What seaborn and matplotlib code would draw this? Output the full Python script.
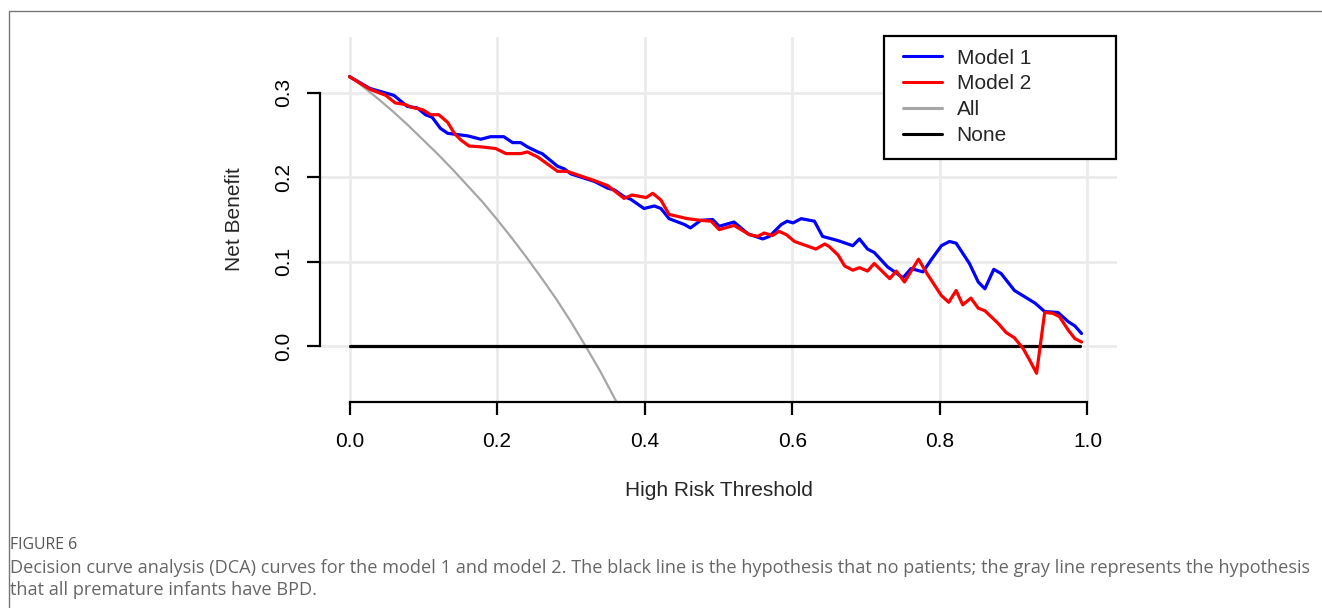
import matplotlib
matplotlib.use("Agg")
import matplotlib.pyplot as plt
import seaborn as sns
from matplotlib.lines import Line2D
from matplotlib.patches import Rectangle

# ---------------- data ----------------
m1_t = [0.000, 0.028, 0.056, 0.060, 0.078, 0.092, 0.103, 0.112, 0.123, 0.133,
        0.160, 0.178, 0.191, 0.209, 0.221, 0.232, 0.241, 0.255, 0.261, 0.282,
        0.291, 0.300, 0.332, 0.350, 0.359, 0.372, 0.381, 0.399, 0.413, 0.422,
        0.433, 0.454, 0.462, 0.476, 0.492, 0.501, 0.521, 0.540, 0.560, 0.569,
        0.585, 0.593, 0.601, 0.612, 0.630, 0.641, 0.662, 0.682, 0.691, 0.702,
        0.711, 0.729, 0.750, 0.761, 0.777, 0.788, 0.802, 0.813, 0.822, 0.840,
        0.852, 0.861, 0.873, 0.883, 0.901, 0.929, 0.942, 0.960, 0.974, 0.983,
        0.992]
m1_nb = [0.319, 0.305, 0.298, 0.297, 0.284, 0.282, 0.274, 0.271, 0.258, 0.252,
         0.249, 0.245, 0.248, 0.248, 0.241, 0.241, 0.236, 0.230, 0.228, 0.213,
         0.210, 0.204, 0.195, 0.187, 0.185, 0.177, 0.174, 0.163, 0.166, 0.163,
         0.151, 0.144, 0.140, 0.149, 0.150, 0.142, 0.147, 0.133, 0.127, 0.130,
         0.144, 0.148, 0.146, 0.151, 0.148, 0.130, 0.125, 0.119, 0.127, 0.115,
         0.111, 0.094, 0.081, 0.092, 0.088, 0.102, 0.119, 0.124, 0.122, 0.098,
         0.076, 0.068, 0.091, 0.086, 0.066, 0.051, 0.041, 0.040, 0.029, 0.024,
         0.015]

m2_t = [0.000, 0.028, 0.049, 0.062, 0.076, 0.083, 0.099, 0.110, 0.121, 0.133,
        0.142, 0.151, 0.162, 0.178, 0.198, 0.212, 0.232, 0.241, 0.255, 0.282,
        0.295, 0.332, 0.350, 0.372, 0.383, 0.402, 0.411, 0.422, 0.433, 0.458,
        0.476, 0.490, 0.501, 0.521, 0.542, 0.553, 0.562, 0.573, 0.582, 0.592,
        0.603, 0.632, 0.644, 0.650, 0.662, 0.671, 0.682, 0.691, 0.702, 0.711,
        0.732, 0.741, 0.752, 0.771, 0.784, 0.802, 0.812, 0.822, 0.831, 0.842,
        0.852, 0.861, 0.879, 0.890, 0.901, 0.913, 0.922, 0.931, 0.942, 0.953,
        0.962, 0.974, 0.983, 0.992]
m2_nb = [0.319, 0.304, 0.297, 0.288, 0.286, 0.283, 0.280, 0.274, 0.274, 0.265,
         0.252, 0.244, 0.237, 0.236, 0.234, 0.228, 0.228, 0.230, 0.224, 0.207,
         0.207, 0.196, 0.190, 0.175, 0.179, 0.176, 0.181, 0.173, 0.156, 0.151,
         0.149, 0.148, 0.138, 0.143, 0.132, 0.130, 0.134, 0.131, 0.136, 0.132,
         0.124, 0.115, 0.121, 0.118, 0.108, 0.095, 0.090, 0.093, 0.089, 0.098,
         0.080, 0.089, 0.076, 0.103, 0.084, 0.060, 0.052, 0.066, 0.049, 0.057,
         0.045, 0.042, 0.027, 0.016, 0.010, -0.003, -0.017, -0.032, 0.040, 0.039,
         0.035, 0.019, 0.009, 0.005]

all_t = [0.00, 0.02, 0.04, 0.06, 0.08, 0.10, 0.12, 0.14, 0.16, 0.18, 0.20,
         0.22, 0.24, 0.26, 0.28, 0.30, 0.32, 0.34, 0.36, 0.37]
all_nb = [0.320, 0.306, 0.292, 0.277, 0.261, 0.244, 0.227, 0.209, 0.190, 0.171,
          0.150, 0.128, 0.105, 0.081, 0.056, 0.029, 0.000, -0.030, -0.063, -0.079]

none_t = [0.00, 0.99]
none_nb = [0.0, 0.0]

x_ticks = [0.0, 0.2, 0.4, 0.6, 0.8, 1.0]
y_ticks = [0.0, 0.1, 0.2, 0.3]
x_ticklabels = ["0.0", "0.2", "0.4", "0.6", "0.8", "1.0"]
y_ticklabels = ["0.0", "0.1", "0.2", "0.3"]

legend_labels = ["Model 1", "Model 2", "All", "None"]
colors = {"Model 1": "#0000FF", "Model 2": "#FF0000", "All": "#A6A6A6", "None": "#000000"}

caption_head = "FIGURE 6"
caption_text = ("Decision curve analysis (DCA) curves for the model 1 and model 2. The black line is the "
                "hypothesis that no patients; the gray line represents the hypothesis\n"
                "that all premature infants have BPD.")

# ---------------- figure ----------------
sns.set_style("white")
plt.rcParams["font.family"] = ["Liberation Sans", "DejaVu Sans"]

W, H = 1322, 608
fig = plt.figure(figsize=(W / 100, H / 100), dpi=100)
L, R, T, B = 320, 1117, 37, 402
ax = fig.add_axes([L / W, 1 - B / H, (R - L) / W, (B - T) / H])

ax.set_xlim(-0.04, 1.04)
ax.set_ylim(-0.066, 0.366)

sns.lineplot(x=all_t, y=all_nb, color=colors["All"], linewidth=1.6, ax=ax, sort=False)
sns.lineplot(x=none_t, y=none_nb, color=colors["None"], linewidth=2.3, ax=ax, sort=False)
sns.lineplot(x=m1_t, y=m1_nb, color=colors["Model 1"], linewidth=2.3, ax=ax, sort=False)
sns.lineplot(x=m2_t, y=m2_nb, color=colors["Model 2"], linewidth=2.3, ax=ax, sort=False)

FS = 15
ax.set_xticks(x_ticks)
ax.set_xticklabels(x_ticklabels)
ax.set_yticks(y_ticks)
ax.set_yticklabels(y_ticklabels, rotation=90, va="center")

ax.grid(True, color="#EBEBEB", linewidth=2.0)
ax.set_axisbelow(True)

for s in ["top", "right"]:
    ax.spines[s].set_visible(False)
ax.spines["left"].set_bounds(0.0, 0.3)
ax.spines["bottom"].set_bounds(0.0, 1.0)
for s in ["left", "bottom"]:
    ax.spines[s].set_linewidth(1.6)
    ax.spines[s].set_color("black")

ax.tick_params(axis="x", bottom=True, direction="out", length=9.5, width=1.6, pad=12,
               labelsize=FS, colors="black")
ax.tick_params(axis="y", left=True, direction="out", length=9.5, width=1.6, pad=10,
               labelsize=FS, colors="black")

ax.set_xlabel("High Risk Threshold", fontsize=FS, va="center")
ax.xaxis.set_label_coords(0.5, (B - 490) / (B - T))
ax.set_ylabel("Net Benefit", fontsize=FS, va="center")
ax.yaxis.set_label_coords((235 - L) / (R - L), 0.5)

# legend box drawn at the reference position; entries placed inside it
bx0 = (884 - L) / (R - L)
by0 = (B - 159) / (B - T)
by1 = (B - 36) / (B - T)
ax.add_patch(Rectangle((bx0, by0), 1.0 - bx0 - 0.001, by1 - by0, transform=ax.transAxes,
                       facecolor="white", edgecolor="black", linewidth=1.6,
                       zorder=5, clip_on=False))

handles = [Line2D([], [], color=colors[k], linewidth=2.2) for k in legend_labels]
lx0 = (890 - L) / (R - L)
leg = ax.legend(handles, legend_labels, loc="upper left",
                bbox_to_anchor=(lx0, by0, 1.0 - lx0, by1 - by0),
                mode="expand", borderaxespad=0, frameon=False,
                fontsize=FS, handlelength=1.9,
                handletextpad=0.7, labelspacing=0.33, borderpad=0.6)
leg.set_zorder(6)

# ---------------- border and caption ----------------
fig.add_artist(Line2D([9 / W, 1.0], [1 - 11 / H, 1 - 11 / H], color="#777777", linewidth=1.0))
fig.add_artist(Line2D([9 / W, 9 / W], [0.0, 1 - 11 / H], color="#777777", linewidth=1.0))

fig.text(10 / W, 1 - 545 / H, caption_head, fontsize=11.4, color="#555555",
         family=["Open Sans", "DejaVu Sans"], va="center", ha="left")
fig.text(10 / W, 1 - 579 / H, caption_text, fontsize=13.1, color="#666666",
         family=["Open Sans", "DejaVu Sans"], va="center", ha="left", linespacing=1.32)

fig.savefig("out.png", dpi=100)
